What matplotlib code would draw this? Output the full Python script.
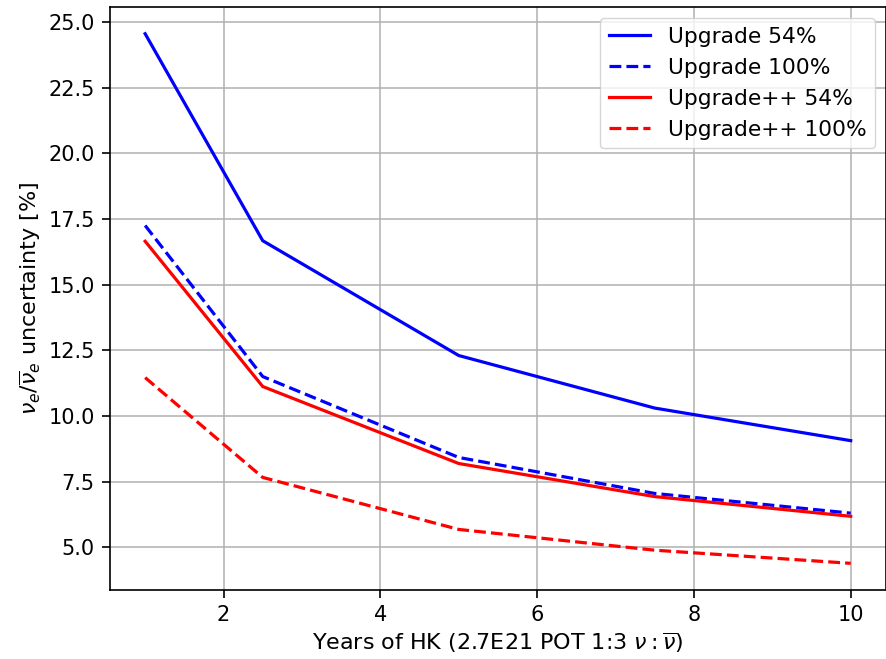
import matplotlib
matplotlib.use("Agg")
import matplotlib.pyplot as plt

years = [1, 2.5, 5, 7.5, 10]
upgrade_54 = [24.55, 16.67, 12.3, 10.3, 9.06]
upgrade_100 = [17.25, 11.5, 8.42, 7.05, 6.3]
upgradepp_54 = [16.65, 11.12, 8.19, 6.93, 6.18]
upgradepp_100 = [11.46, 7.66, 5.68, 4.89, 4.39]
labels = ["Upgrade 54%", "Upgrade 100%", "Upgrade++ 54%", "Upgrade++ 100%"]

plt.rcParams['font.size'] = 15
fig = plt.figure(figsize=(8.86, 6.59), dpi=100)
ax = fig.add_axes([0.124, 0.105, 0.876, 0.884])
ax.plot(years, upgrade_54, color='blue', ls='-', lw=2.3, label=labels[0])
ax.plot(years, upgrade_100, color='blue', ls='--', lw=2.3, label=labels[1])
ax.plot(years, upgradepp_54, color='red', ls='-', lw=2.3, label=labels[2])
ax.plot(years, upgradepp_100, color='red', ls='--', lw=2.3, label=labels[3])
ax.grid(True, color='#b0b0b0', lw=1.1)
ax.tick_params(labelsize=15, length=6, width=1.2, pad=5)
for s in ax.spines.values():
    s.set_linewidth(1.2)
ax.set_xlabel(r'Years of HK (2.7E21 POT 1:3 $\nu:\overline{\nu}$)', fontsize=16)
ax.set_ylabel(r'$\nu_e/\overline{\nu}_e$ uncertainty [%]', fontsize=16)
ax.legend(loc='upper right', fontsize=15.7, handlelength=1.9)
fig.savefig('out.png', dpi=100)
